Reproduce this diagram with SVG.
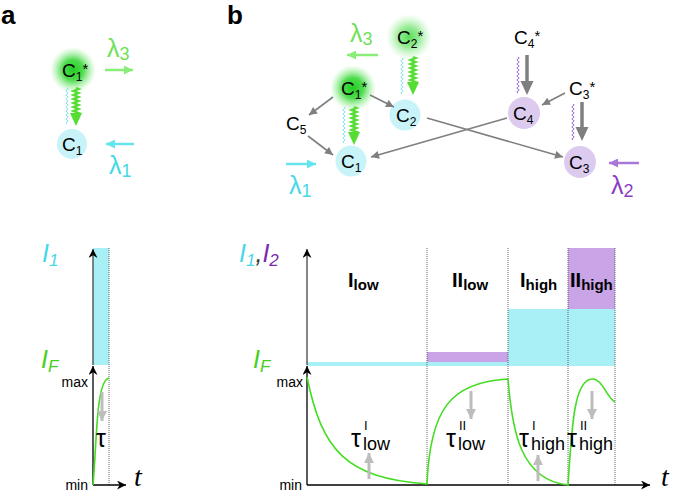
<svg xmlns="http://www.w3.org/2000/svg" width="675" height="492" viewBox="0 0 675 492">
<style>
text{font-family:"Liberation Sans",Arial,sans-serif;}
.c{font-size:19px;fill:#000}
.s{font-size:12px}
.st{font-size:15px}
.pl{font-size:26px;font-weight:bold;fill:#000}
.lam{font-size:25px}
.ls{font-size:18px}
.ax{font-size:25px;font-style:italic}
.axs{font-size:17px}
.mm{font-size:14px;fill:#000}
.tt{font-family:"Liberation Serif","Times New Roman",serif;font-size:28px;font-style:italic;fill:#000}
.rg{font-size:20px;font-weight:bold;fill:#000}
.rgs{font-size:15px}
.tau{font-size:25px;fill:#000}
.tsup{font-size:13px;fill:#000}
.tsub{font-size:18px;fill:#000}
.gl{stroke:#7f7f7f;stroke-width:1.6;fill:none}
.dot{stroke:#555;stroke-width:0.9;stroke-dasharray:1,1;fill:none}
.curve{stroke:#44dd22;stroke-width:1.6;fill:none}
</style>
<defs>
<radialGradient id="glow1">
<stop offset="0" stop-color="#22cc22"/>
<stop offset="0.45" stop-color="#3cd83c" stop-opacity="0.9"/>
<stop offset="1" stop-color="#8cee8c" stop-opacity="0"/>
</radialGradient>
<radialGradient id="glow2">
<stop offset="0" stop-color="#55dd55"/>
<stop offset="0.45" stop-color="#77e577" stop-opacity="0.75"/>
<stop offset="1" stop-color="#aaf2aa" stop-opacity="0"/>
</radialGradient>
<marker id="mg" viewBox="0 0 10 10" refX="10" refY="5" markerWidth="9" markerHeight="8" orient="auto" markerUnits="userSpaceOnUse"><path d="M0,0 L10,5 L0,10 z" fill="#7f7f7f"/></marker>
<marker id="mgr" viewBox="0 0 10 10" refX="10" refY="5" markerWidth="9" markerHeight="9" orient="auto" markerUnits="userSpaceOnUse"><path d="M0,0 L10,5 L0,10 z" fill="#88ee77"/></marker>
<marker id="mcy" viewBox="0 0 10 10" refX="10" refY="5" markerWidth="9" markerHeight="9" orient="auto" markerUnits="userSpaceOnUse"><path d="M0,0 L10,5 L0,10 z" fill="#66e4ee"/></marker>
<marker id="mpu" viewBox="0 0 10 10" refX="10" refY="5" markerWidth="9" markerHeight="9" orient="auto" markerUnits="userSpaceOnUse"><path d="M0,0 L10,5 L0,10 z" fill="#a875d8"/></marker>
<marker id="mk" viewBox="0 0 10 10" refX="10" refY="5" markerWidth="12" markerHeight="9" orient="auto" markerUnits="userSpaceOnUse"><path d="M0,0 L10,5 L0,10 L3,5 z" fill="#000"/></marker>
<marker id="mlg" viewBox="0 0 10 10" refX="10" refY="5" markerWidth="10" markerHeight="10" orient="auto" markerUnits="userSpaceOnUse"><path d="M0,0 L10,5 L0,10 z" fill="#bdbdbd"/></marker>
<g id="wavyG">
<path d="M0,0 l2.5,1 l-5,2 l5,2 l-5,2 l5,2 l-5,2 l5,2 l-5,2 l5,2 l-5,2 l5,2 l-5,2 l5,2 l-2.5,1" stroke="#55dd33" stroke-width="2.4" fill="none"/>
<path d="M-6,25 L6,25 L0,38 Z" fill="#55dd33"/>
</g>
<path id="zz" d="M0,0 l1.2,1 l-2.4,2 l2.4,2 l-2.4,2 l2.4,2 l-2.4,2 l2.4,2 l-2.4,2 l2.4,2 l-2.4,2 l2.4,2 l-2.4,2 l2.4,2 l-2.4,2 l2.4,2 l-2.4,2 l2.4,2 l-2.4,2 l1.2,1" fill="none" stroke-width="1"/>
</defs>

<!-- panel labels -->
<text class="pl" x="1" y="24">a</text>
<text class="pl" x="227" y="24">b</text>

<!-- ===== Panel a top ===== -->
<g id="a-C1star">
<circle cx="73" cy="70" r="23" fill="url(#glow1)"/>
<text class="c" x="62" y="77">C<tspan class="s" dy="4">1</tspan><tspan class="st" dy="-7">*</tspan></text>
</g>
<g id="a-C1">
<circle cx="72" cy="144" r="15" fill="#c8f3f8"/>
<text class="c" x="62" y="151">C<tspan class="s" dy="4">1</tspan></text>
</g>
<g id="a-lambda3">
<text class="lam" x="107" y="57" fill="#6ee05a">λ<tspan class="ls" dy="3">3</tspan></text>
</g>
<g id="a-lambda1">
<text class="lam" x="109" y="174" fill="#44d8e8">λ<tspan class="ls" dy="3">1</tspan></text>
</g>

<!-- ===== Panel b top nodes ===== -->
<g id="b-C2star">
<circle cx="409" cy="37" r="23" fill="url(#glow2)"/>
<text class="c" x="397" y="44">C<tspan class="s" dy="4">2</tspan><tspan class="st" dy="-7">*</tspan></text>
</g>
<g id="b-C1star">
<circle cx="353" cy="88" r="23" fill="url(#glow1)"/>
<text class="c" x="341" y="95">C<tspan class="s" dy="4">1</tspan><tspan class="st" dy="-7">*</tspan></text>
</g>
<g id="b-C2">
<circle cx="405" cy="115" r="15.5" fill="#c8f3f8"/>
<text class="c" x="396" y="122">C<tspan class="s" dy="4">2</tspan></text>
</g>
<g id="b-C1">
<circle cx="351" cy="161" r="15.5" fill="#c8f3f8"/>
<text class="c" x="341" y="168">C<tspan class="s" dy="4">1</tspan></text>
</g>
<g id="b-C5">
<text class="c" x="286" y="130">C<tspan class="s" dy="4">5</tspan></text>
</g>
<g id="b-C4star">
<text class="c" x="514" y="44">C<tspan class="s" dy="4">4</tspan><tspan class="st" dy="-7">*</tspan></text>
</g>
<g id="b-C4">
<circle cx="524" cy="113" r="16" fill="#dccbef"/>
<text class="c" x="513" y="120">C<tspan class="s" dy="4">4</tspan></text>
</g>
<g id="b-C3star">
<text class="c" x="569" y="95">C<tspan class="s" dy="4">3</tspan><tspan class="st" dy="-7">*</tspan></text>
</g>
<g id="b-C3">
<circle cx="580" cy="162" r="16" fill="#dccbef"/>
<text class="c" x="569" y="169">C<tspan class="s" dy="4">3</tspan></text>
</g>
<g id="b-lambda3">
<text class="lam" x="350" y="42" fill="#6ee05a">λ<tspan class="ls" dy="3">3</tspan></text>
</g>
<g id="b-lambda1">
<text class="lam" x="289" y="194" fill="#44d8e8">λ<tspan class="ls" dy="3">1</tspan></text>
</g>
<g id="b-lambda2">
<text class="lam" x="611" y="194" fill="#8a3cc4">λ<tspan class="ls" dy="3">2</tspan></text>
</g>

<!-- ===== connectors ===== -->
<g id="connectors">
<line x1="105" y1="70" x2="133" y2="70" stroke="#88ee77" stroke-width="2.5" marker-end="url(#mgr)"/>
<line x1="134" y1="144" x2="106" y2="144" stroke="#66e4ee" stroke-width="2.5" marker-end="url(#mcy)"/>
<line x1="378" y1="55" x2="347" y2="55" stroke="#88ee77" stroke-width="2.5" marker-end="url(#mgr)"/>
<line x1="286" y1="164" x2="316" y2="164" stroke="#66e4ee" stroke-width="2.5" marker-end="url(#mcy)"/>
<line x1="639" y1="163" x2="609" y2="163" stroke="#a875d8" stroke-width="2.5" marker-end="url(#mpu)"/>
<use href="#wavyG" x="76" y="88"/>
<use href="#zz" x="67" y="88" stroke="#88e4ee"/>
<use href="#wavyG" x="354" y="107"/>
<use href="#zz" x="344" y="107" stroke="#88e4ee"/>
<use href="#wavyG" x="413" y="57"/>
<use href="#zz" x="402" y="58" stroke="#88e4ee"/>
<use href="#zz" x="518" y="57" stroke="#a070d0"/>
<use href="#zz" x="573" y="104" stroke="#a070d0"/>
<line x1="527" y1="55" x2="527" y2="82" stroke="#7f7f7f" stroke-width="3.5"/>
<path d="M520.5,81 L533.5,81 L527,95 Z" fill="#7f7f7f"/>
<line x1="582" y1="102" x2="582" y2="128" stroke="#7f7f7f" stroke-width="3.5"/>
<path d="M575.5,127 L588.5,127 L582,141 Z" fill="#7f7f7f"/>
<line class="gl" x1="333" y1="97" x2="309" y2="115" marker-end="url(#mg)"/>
<line class="gl" x1="308" y1="136" x2="333" y2="155" marker-end="url(#mg)"/>
<line class="gl" x1="370" y1="95" x2="394" y2="107" marker-end="url(#mg)"/>
<line class="gl" x1="565" y1="93" x2="542" y2="105" marker-end="url(#mg)"/>
<line class="gl" x1="427" y1="118" x2="563" y2="157" marker-end="url(#mg)"/>
<line class="gl" x1="507" y1="118" x2="371" y2="157" marker-end="url(#mg)"/>
</g>

<!-- ===== Panel a bottom plot ===== -->
<g id="a-plot">
<rect x="93" y="248" width="16" height="117" fill="#a8f0f5"/>
<line class="dot" x1="109" y1="248" x2="109" y2="485"/>
<line x1="93" y1="365" x2="93" y2="249" stroke="#444" stroke-width="1.3" marker-end="url(#mk)"/>
<line x1="93" y1="485" x2="93" y2="366" stroke="#000" stroke-width="1.3" marker-end="url(#mk)"/>
<line x1="93" y1="485" x2="126" y2="485" stroke="#000" stroke-width="1.3" marker-end="url(#mk)"/>
<path class="curve" d="M93,485 C97,440 96,381 109,378"/>
<line x1="102" y1="392" x2="102" y2="421" stroke="#bdbdbd" stroke-width="3" marker-end="url(#mlg)"/>
<text class="tau" x="96" y="447">τ</text>
<text class="ax" x="42" y="262" fill="#44d8e8">I<tspan class="axs" dy="4">1</tspan></text>
<text class="ax" x="41" y="368" fill="#44d020">I<tspan class="axs" dy="4">F</tspan></text>
<text class="mm" x="88" y="387" text-anchor="end">max</text>
<text class="mm" x="88" y="490" text-anchor="end">min</text>
<text class="tt" x="134" y="486">t</text>
</g>

<!-- ===== Panel b bottom plot ===== -->
<g id="b-plot">
<rect x="307" y="362" width="201" height="4" fill="#a8f0f5"/>
<rect x="427" y="352" width="81" height="10" fill="#c9a4e6"/>
<rect x="508" y="309" width="107" height="57" fill="#a8f0f5"/>
<rect x="568" y="248" width="47" height="61" fill="#c9a4e6"/>
<line class="dot" x1="427" y1="248" x2="427" y2="485"/>
<line class="dot" x1="508" y1="248" x2="508" y2="485"/>
<line class="dot" x1="568" y1="248" x2="568" y2="485"/>
<line class="dot" x1="615" y1="248" x2="615" y2="485"/>
<line x1="307" y1="365" x2="307" y2="249" stroke="#444" stroke-width="1.3" marker-end="url(#mk)"/>
<line x1="307" y1="485" x2="307" y2="366" stroke="#000" stroke-width="1.3" marker-end="url(#mk)"/>
<line x1="307" y1="485" x2="650" y2="485" stroke="#000" stroke-width="1.3" marker-end="url(#mk)"/>
<path class="curve" d="M307,377 C322,450 345,478 427,484 C430,410 450,382 508,379 C512,430 520,480 568,485 C572,420 575,380 592,379 C602,378 607,398 615,402"/>
<text class="ax" x="239" y="262" fill="#44d8e8">I<tspan class="axs" dy="4">1</tspan><tspan dy="-4" fill="#333">,</tspan><tspan fill="#7a2ab0">I</tspan><tspan class="axs" dy="4" fill="#7a2ab0">2</tspan></text>
<text class="ax" x="253" y="368" fill="#44d020">I<tspan class="axs" dy="4">F</tspan></text>
<text class="mm" x="303" y="387" text-anchor="end">max</text>
<text class="mm" x="302" y="490" text-anchor="end">min</text>
<text class="tt" x="661" y="486">t</text>
<text class="rg" x="348" y="287">I<tspan class="rgs" dy="3">low</tspan></text>
<text class="rg" x="452" y="287">II<tspan class="rgs" dy="3">low</tspan></text>
<text class="rg" x="520" y="287">I<tspan class="rgs" dy="3">high</tspan></text>
<text class="rg" x="570" y="287" fill="#2d0b3e">II<tspan class="rgs" dy="3">high</tspan></text>
<text class="tau" x="351" y="447">τ</text><text class="tsup" x="364" y="430">I</text><text class="tsub" x="363" y="450">low</text>
<text class="tau" x="446" y="447">τ</text><text class="tsup" x="459" y="430">II</text><text class="tsub" x="458" y="450">low</text>
<text class="tau" x="519" y="447">τ</text><text class="tsup" x="532" y="430">I</text><text class="tsub" x="531" y="450">high</text>
<text class="tau" x="567" y="447">τ</text><text class="tsup" x="580" y="430">II</text><text class="tsub" x="579" y="450">high</text>
<line x1="369" y1="479" x2="369" y2="453" stroke="#bdbdbd" stroke-width="3" marker-end="url(#mlg)"/>
<line x1="471" y1="391" x2="471" y2="419" stroke="#bdbdbd" stroke-width="3" marker-end="url(#mlg)"/>
<line x1="538" y1="481" x2="538" y2="455" stroke="#bdbdbd" stroke-width="3" marker-end="url(#mlg)"/>
<line x1="592" y1="391" x2="592" y2="419" stroke="#bdbdbd" stroke-width="3" marker-end="url(#mlg)"/>
</g>
</svg>
